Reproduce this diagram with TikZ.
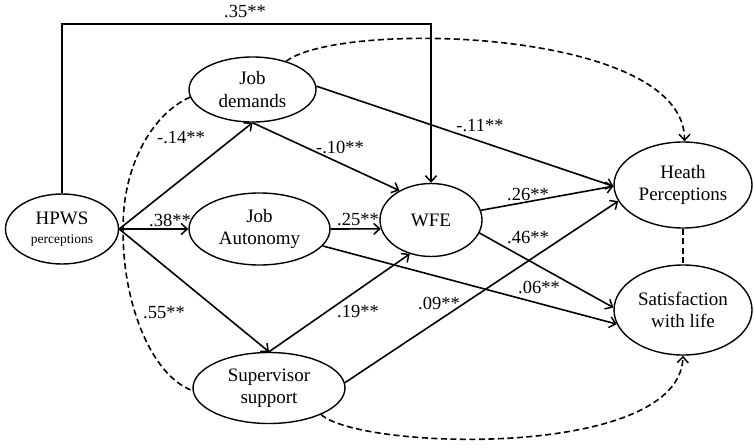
\documentclass[tikz,border=0pt]{standalone}
\usepackage{fontspec}
\setmainfont{Liberation Serif}
\usetikzlibrary{shapes.geometric,arrows.meta}
\begin{document}
\begin{tikzpicture}[x=1pt,y=-1pt,
  el/.style={draw,ellipse,line width=1.4pt,inner sep=0pt,align=center,font=\fontsize{19}{22}\selectfont},
  lab/.style={font=\fontsize{18.5}{20}\selectfont,inner sep=0pt},
  tip/.style={-{Straight Barb[length=6pt,width=11pt,line width=1.5pt]}},
  arr/.style={line width=1.6pt,tip},
  dsh/.style={line width=1.6pt,dash pattern=on 6pt off 3.5pt}]
\useasboundingbox (0,0) rectangle (754,447);
% nodes
\node[el,minimum width=113pt,minimum height=70pt] (hpws) at (62,229) {HPWS\\[-3pt]{\fontsize{13.5}{15}\selectfont perceptions}};
\node[el,minimum width=127pt,minimum height=65pt] (jd) at (252.5,89.5) {Job\\demands};
\node[el,minimum width=141pt,minimum height=72pt] (ja) at (259.5,229) {Job\\Autonomy};
\node[el,minimum width=102pt,minimum height=73pt] (wfe) at (431,220) {WFE};
\node[el,minimum width=152pt,minimum height=71pt] (ss) at (269,388) {Supervisor\\support};
\node[el,minimum width=138pt,minimum height=86pt] (hp) at (683,185) {Heath\\Perceptions};
\node[el,minimum width=138pt,minimum height=90pt] (sat) at (683,310) {Satisfaction\\with life};
\coordinate (top) at (431,24);
% structural paths
\draw[arr] (hpws.north) |- (top) -- (wfe.north);
\draw[arr] (hpws.east) -- (jd.south);
\draw[arr] (hpws.east) -- (ja.west);
\draw[arr] (hpws.east) -- (ss.north);
\draw[arr] (jd.south) -- (wfe.137);
\draw[arr] (jd.3) -- (hp.181);
\draw[arr] (ja.east) -- (wfe.190);
\draw[arr] (ja.345) -- (sat.192);
\draw[arr] (ss.north) -- (wfe.238);
\draw[arr] (ss.4) -- (hp.194);
\draw[arr] (wfe.11) -- (hp.181);
\draw[arr] (wfe.345) -- (sat.178);
% dashed correlations
\draw[dsh] (jd.187) .. controls (150,115) and (122,170) .. ([xshift=4pt]hpws.east)
  .. controls (122,300) and (150,375) .. (ss.182);
\draw[dsh,tip] (jd.40) .. controls (340,20) and (685,28) .. (hp.88);
\draw[dsh,tip] (ss.333) .. controls (360,450) and (680,460) .. (sat.south);
\draw[dsh] (hp.south) -- (sat.north);
% labels
\node[lab] (l35) at (245,12) {.35**};
\node[lab] (l14) at (181,138) {-.14**};
\node[lab] (l38) at (170,220) {.38**};
\node[lab] (l55) at (164,313) {.55**};
\node[lab] (l10) at (340,147) {-.10**};
\node[lab] (l11) at (480,126) {-.11**};
\node[lab] (l25) at (358,220) {.25**};
\node[lab] (l26) at (528,195) {.26**};
\node[lab] (l46) at (528,238) {.46**};
\node[lab] (l06) at (539,287) {.06**};
\node[lab] (l09) at (439,303) {.09**};
\node[lab] (l19) at (358,312) {.19**};
\end{tikzpicture}
\end{document}
